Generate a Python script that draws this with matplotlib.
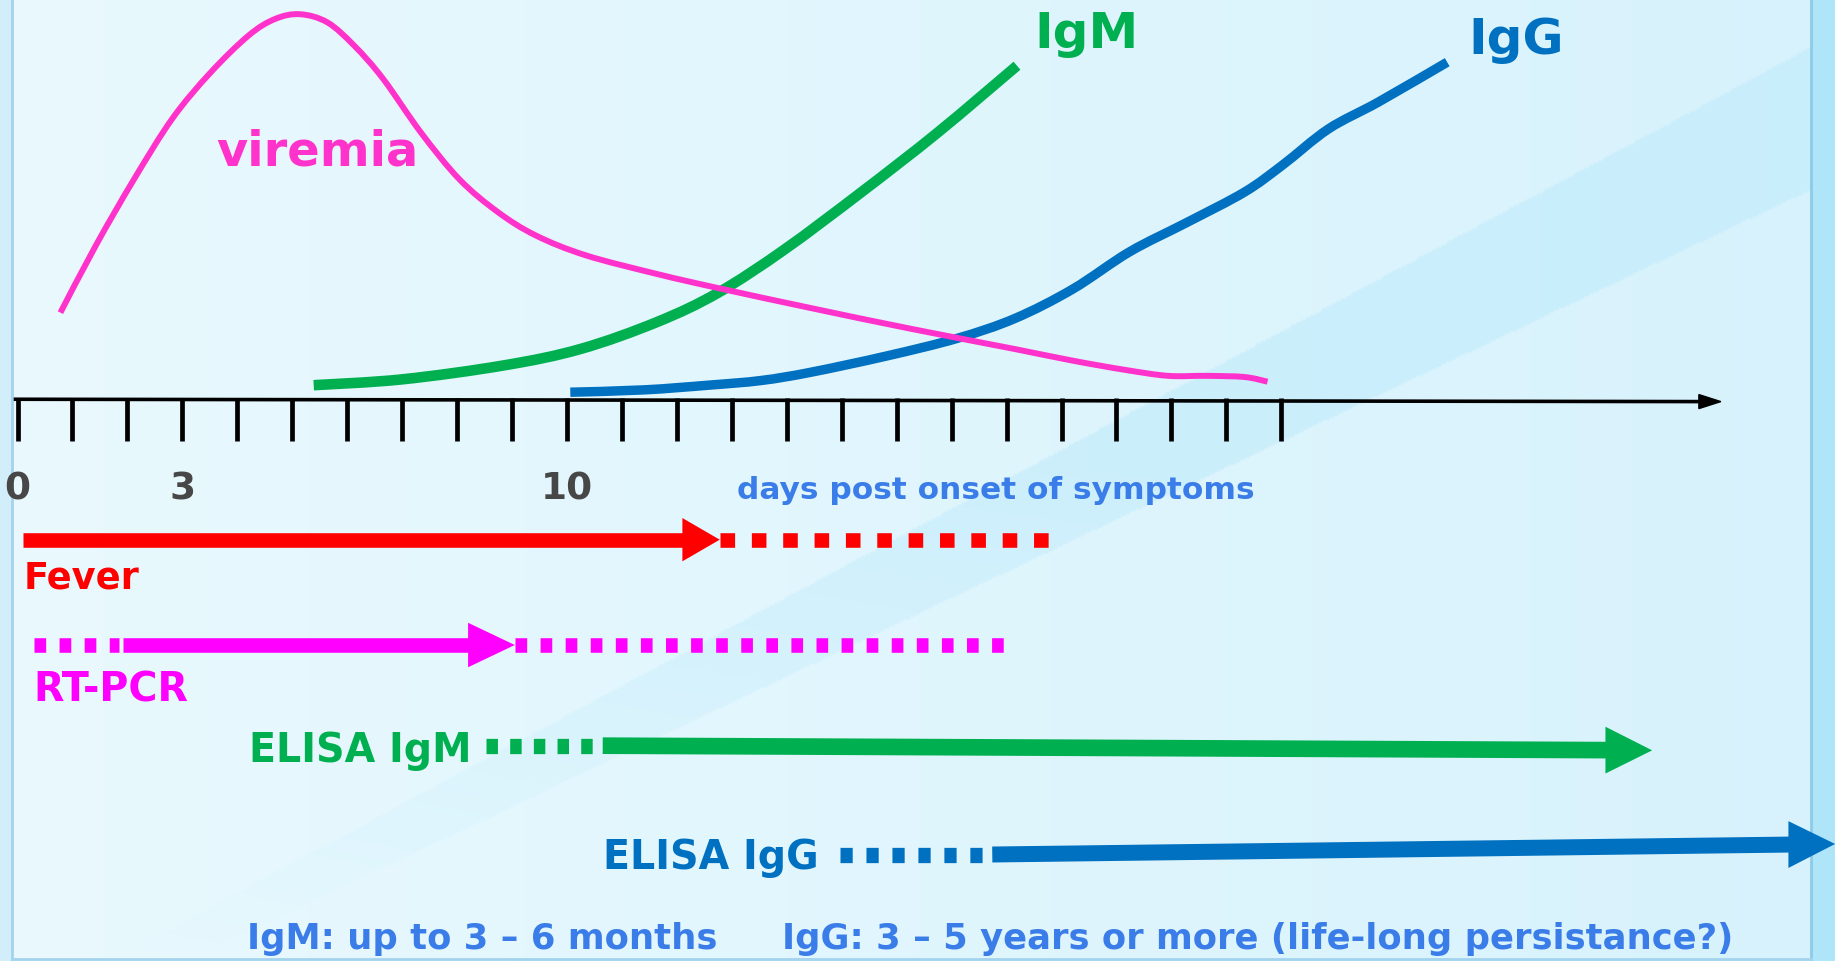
import numpy as np
import matplotlib.pyplot as plt
from matplotlib.patches import Rectangle, PathPatch
from matplotlib.path import Path
from matplotlib.colors import to_rgb

# curves: day post onset of symptoms vs relative level above the day axis
viremia_days = [0.78, 1.42, 2.12, 2.82, 3.51, 4.21, 4.69, 5.14, 5.64, 6.13, 6.65, 7.34, 8.04,
                8.74, 9.43, 10.34, 11.64, 12.75, 14.43, 16.28, 18.14, 19.2, 20.17, 20.94,
                21.63, 22.33, 22.75]
viremia_level = [74, 131, 188, 240, 279, 311, 325, 329, 322, 302, 274, 228, 188,
                 160, 140, 123, 107, 95, 78, 60, 43, 33, 25, 20,
                 20, 19, 15]

igm_days = [5.39, 7.0, 8.86, 10.25, 11.64, 12.75, 13.96, 15.36, 16.75, 18.19]
igm_level = [12, 17, 29, 43, 66, 91, 128, 177, 228, 285]

igg_days = [10.06, 11.4, 12.57, 13.53, 14.43, 15.82, 17.1, 18.15, 19.2, 20.24, 21.28, 22.33,
            23.02, 23.86, 24.77, 26.02]
igg_level = [6, 8, 12, 16, 23, 37, 52, 69, 94, 126, 151, 177,
             200, 231, 254, 288]

tick_days = list(range(0, 24))
labelled_days = [0, 3, 10]

# detection windows in days: dotted part before, solid arrow, dotted part after
fever_solid = (0.1, 12.78)
fever_dotted = (12.78, 18.85)
rtpcr_dotted_pre = (0.3, 1.85)
rtpcr_solid = (1.92, 9.05)
rtpcr_dotted_post = (9.05, 18.0)
elisa_igm_dotted = (8.52, 10.65)
elisa_igm_solid = (10.65, 29.75)
elisa_igg_dotted = (14.97, 17.74)
elisa_igg_solid = (17.74, 33.08)

PINK = "#ff33cc"
MAGENTA = "#ff00ff"
RED = "#ff0000"
GREEN = "#00b050"
BLUE = "#0070c0"
TEXT_BLUE = "#3a7de8"

fig = plt.figure(figsize=(18.35, 9.62), dpi=100)
ax = fig.add_axes([0, 0, 1, 1])
ax.set_xlim(-15 / 46.95, 1553 / 46.95)
ax.set_ylim(-480, 342)
ax.axis("off")

# background (decoration only): light gradient with one soft diagonal band
H, W = 411, 784
yy, xx = np.mgrid[0:H, 0:W] * 2.0
t = (xx / (2 * W))[..., None]
left, right = np.array(to_rgb("#e9f9fe")), np.array(to_rgb("#d7f2fc"))
bg = left * (1 - t) + right * t
upper = 549.6 - 0.537 * (xx - 598)
lower = 612.6 - 0.475 * (xx - 598)
inband = (yy >= upper) & (yy <= lower)
strength = np.clip((822 - yy) / 420, 0, 1) * inband
band = np.array(to_rgb("#bdeafb"))
k = (0.55 * strength)[..., None]
bg = bg * (1 - k) + band * k
ax.imshow(bg, extent=[*ax.get_xlim(), *ax.get_ylim()], aspect="auto", zorder=0, interpolation="bilinear")
ax.add_patch(Rectangle((0.987, 0), 0.013, 1, transform=ax.transAxes, color="#aee5f9", lw=0, zorder=0.6))
ax.plot([0.987, 0.987], [0, 1], transform=ax.transAxes, color="#8ccbe9", lw=2, zorder=0.7)
ax.add_patch(Rectangle((0, 0), 0.0064, 1, transform=ax.transAxes, color="#d2eefa", lw=0, zorder=0.6))
ax.plot([0.0064, 0.0064], [0, 1], transform=ax.transAxes, color="#a3d3ee", lw=2, zorder=0.7)
ax.plot([0.0064, 0.987], [0.002, 0.002], transform=ax.transAxes, color="#a3d3ee", lw=2, zorder=0.7)

# day axis with ticks
ax.plot([-0.07, 30.7], [0, -2], color="black", lw=2.6, solid_capstyle="butt", zorder=3)
ax.fill([30.6, 31.0, 30.6], [4, -2, -8], color="black", zorder=3)
for d in tick_days:
    ax.plot([d, d], [1, -36], color="black", lw=3.4, solid_capstyle="butt", zorder=3)
for d in labelled_days:
    ax.text(d, -76, str(d), ha="center", va="center", fontsize=27, fontweight="bold", color="#474747")
ax.text(13.1, -77, "days post onset of symptoms", ha="left", va="center", fontsize=22.5,
        fontweight="bold", color=TEXT_BLUE)


def smooth_curve(xs, ys, color, lw, z):
    # Catmull-Rom through the read points, drawn as cubic Bezier segments
    pts = np.column_stack([xs, ys]).astype(float)
    n = len(pts)
    verts = [pts[0]]
    codes = [Path.MOVETO]
    for i in range(n - 1):
        p0 = pts[i - 1] if i > 0 else pts[i]
        p1, p2 = pts[i], pts[i + 1]
        p3 = pts[i + 2] if i + 2 < n else pts[i + 1]
        verts += [p1 + (p2 - p0) / 6, p2 - (p3 - p1) / 6, p2]
        codes += [Path.CURVE4] * 3
    ax.add_patch(PathPatch(Path(verts, codes), fill=False, edgecolor=color, lw=lw,
                           capstyle="butt", joinstyle="round", zorder=z))


smooth_curve(viremia_days, viremia_level, PINK, 4.3, 4)
smooth_curve(igm_days, igm_level, GREEN, 7.6, 3.5)
smooth_curve(igg_days, igg_level, BLUE, 6.8, 3.6)
ax.text(5.45, 212, "viremia", ha="center", va="center", fontsize=34.5, fontweight="bold", color=PINK)
ax.text(18.5, 313, "IgM", ha="left", va="center", fontsize=36, fontweight="bold", color=GREEN)
ax.text(26.4, 308, "IgG", ha="left", va="center", fontsize=36, fontweight="bold", color=BLUE)


def arrow(span, y0, y1, color, lw, head_len, head_half):
    x0, x1 = span
    base = x1 - head_len
    yb = y0 + (y1 - y0) * (base - x0) / (x1 - x0)
    ax.plot([x0, base + 0.05], [y0, yb], color=color, lw=lw, solid_capstyle="butt", zorder=5)
    ax.fill([base, x1, base], [yb + head_half, y1, yb - head_half], color=color, lw=0, zorder=5)


def dotted(span, y0, y1, color, lw, on, off):
    ax.plot(span, [y0, y1], color=color, lw=lw, linestyle=(0, (on, off)),
            dash_capstyle="butt", zorder=5)


arrow(fever_solid, -120, -120, RED, 10.5, 0.68, 18.5)
dotted(fever_dotted, -120, -120, RED, 10.5, 1.0, 1.15)
ax.text(0.11, -152, "Fever", ha="left", va="center", fontsize=26.5, fontweight="bold", color=RED)

dotted(rtpcr_dotted_pre, -210, -210, MAGENTA, 10.5, 0.8, 0.92)
arrow(rtpcr_solid, -210, -210, MAGENTA, 10.5, 0.85, 19)
dotted(rtpcr_dotted_post, -210, -210, MAGENTA, 10.5, 0.8, 0.92)
ax.text(0.28, -248, "RT-PCR", ha="left", va="center", fontsize=28.5, fontweight="bold", color=MAGENTA)

dotted(elisa_igm_dotted, -296, -296, GREEN, 11, 0.75, 0.8)
arrow(elisa_igm_solid, -296, -300, GREEN, 12, 0.85, 20)
ax.text(4.22, -300, "ELISA IgM", ha="left", va="center", fontsize=28.5, fontweight="bold", color=GREEN)

dotted(elisa_igg_dotted, -389, -389, BLUE, 11, 0.8, 0.9)
arrow(elisa_igg_solid, -389, -380, BLUE, 11.5, 0.85, 20)
ax.text(10.65, -391, "ELISA IgG", ha="left", va="center", fontsize=28.5, fontweight="bold", color=BLUE)

ax.text(4.17, -460, "IgM: up to 3 \u2013 6 months", ha="left", va="center", fontsize=25.5,
        fontweight="bold", color=TEXT_BLUE)
ax.text(13.91, -460, "IgG: 3 \u2013 5 years or more (life-long persistance?)", ha="left", va="center",
        fontsize=25.5, fontweight="bold", color=TEXT_BLUE)

fig.savefig("out.png", dpi=100)
